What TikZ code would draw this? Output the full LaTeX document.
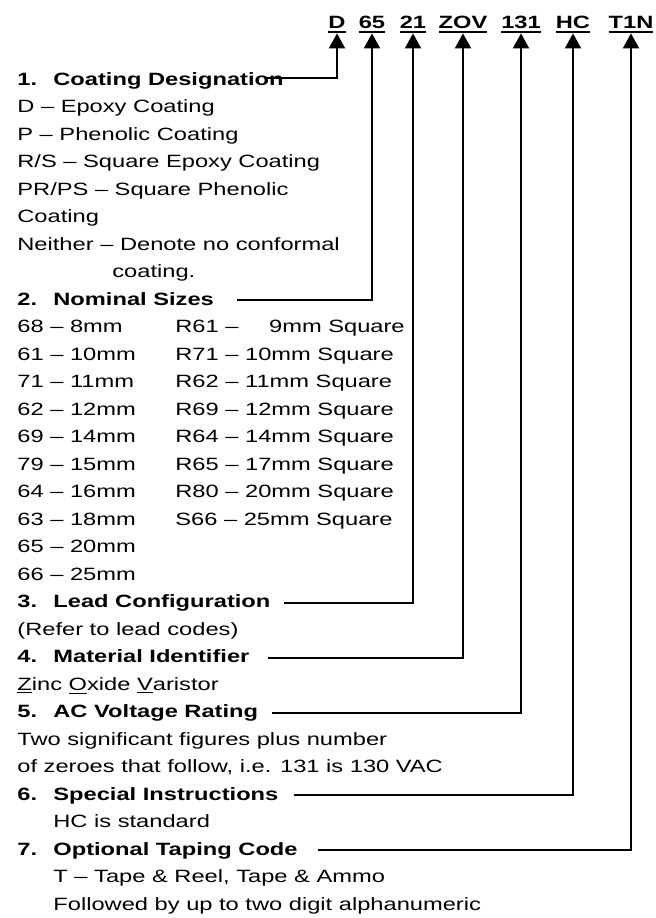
\documentclass[tikz,border=0pt]{standalone}
\usepackage{fontspec}
\setmainfont{Liberation Sans}[FakeStretch=1.33]
\usetikzlibrary{arrows.meta}
\newcommand{\partfont}{\fontsize{8.9pt}{13.75pt}\selectfont}
\newcommand{\codeline}[1]{\setbox0\hbox{#1}\rlap{\rule[-2.5pt]{\wd0}{1pt}}\box0}
\tikzset{
    x=0.5pt, y=-0.5pt,
    every node/.style={inner sep=0pt, anchor=base west, font=\partfont},
    code/.style={font=\partfont\bfseries, anchor=base},
    head/.style={font=\partfont\bfseries},
    lead/.style={line width=1pt, -{Triangle[length=7.5pt, width=8pt]}}
}
\begin{document}
\begin{tikzpicture}
    \useasboundingbox (0,0) rectangle (656,918);
    % part number
    \node[code] (cD) at (337,28) {\codeline{D}};
    \node[code] (c65) at (372,28) {\codeline{65}};
    \node[code] (c21) at (413,28) {\codeline{21}};
    \node[code] (cZOV) at (463,28) {\codeline{ZOV}};
    \node[code] (c131) at (521,28) {\codeline{131}};
    \node[code] (cHC) at (573,28) {\codeline{HC}};
    \node[code] (cT1N) at (631,28) {\codeline{T1N}};
    % 1
    \node[head] (h1) at (17,85) {\makebox[18pt][l]{1.}Coating Designation};
    \node (d1) at (17,112.5) {D – Epoxy Coating};
    \node (d2) at (17,140) {P – Phenolic Coating};
    \node (d3) at (17,167.5) {R/S – Square Epoxy Coating};
    \node (d4) at (17,195) {PR/PS – Square Phenolic};
    \node (d5) at (17,222.5) {Coating};
    \node (d6) at (17,250) {Neither – Denote no conformal};
    \node (d7) at (112,277.5) {coating.};
    % 2
    \node[head] (h2) at (17,305) {\makebox[18pt][l]{2.}Nominal Sizes};
    \foreach \a/\b [count=\i] in {68 – 8mm/R61 – \hspace{12pt}9mm Square,
        61 – 10mm/R71 – 10mm Square, 71 – 11mm/R62 – 11mm Square,
        62 – 12mm/R69 – 12mm Square, 69 – 14mm/R64 – 14mm Square,
        79 – 15mm/R65 – 17mm Square, 64 – 16mm/R80 – 20mm Square,
        63 – 18mm/S66 – 25mm Square, 65 – 20mm/, 66 – 25mm/}
    {
        \node (sa\i) at (17,305+\i*27.5) {\a};
        \node (sb\i) at (175,305+\i*27.5) {\b};
    }
    % 3
    \node[head] (h3) at (17,607.5) {\makebox[18pt][l]{3.}Lead Configuration};
    \node (l1) at (17,635) {(Refer to lead codes)};
    % 4
    \node[head] (h4) at (17,662.5) {\makebox[18pt][l]{4.}Material Identifier};
    \node (m1) at (17,690) {\underline{Z}inc \underline{O}xide \underline{V}aristor};
    % 5
    \node[head] (h5) at (17,717.5) {\makebox[18pt][l]{5.}AC Voltage Rating};
    \node (v1) at (17,745) {Two significant figures plus number};
    \node (v2) at (17,772.5) {of zeroes that follow, i.e. 131 is 130 VAC};
    % 6
    \node[head] (h6) at (17,800) {\makebox[18pt][l]{6.}Special Instructions};
    \node (s1) at (53,827.5) {HC is standard};
    % 7
    \node[head] (h7) at (17,855) {\makebox[18pt][l]{7.}Optional Taping Code};
    \node (t1) at (53,882.5) {T – Tape \& Reel, Tape \& Ammo};
    \node (t2) at (53,910) {Followed by up to two digit alphanumeric};
    % leaders
    \draw[lead] ([shift={(-18,-7)}]h1.base east) -| (cD.south);
    \draw[lead] ([shift={(23,-5)}]h2.base east) -| (c65.south);
    \draw[lead] ([shift={(13,-5)}]h3.base east) -| (c21.south);
    \draw[lead] ([shift={(18,-5)}]h4.base east) -| (cZOV.south);
    \draw[lead] ([shift={(13,-5)}]h5.base east) -| (c131.south);
    \draw[lead] ([shift={(15,-5)}]h6.base east) -| (cHC.south);
    \draw[lead] ([shift={(20,-5)}]h7.base east) -| (cT1N.south);
\end{tikzpicture}
\end{document}
